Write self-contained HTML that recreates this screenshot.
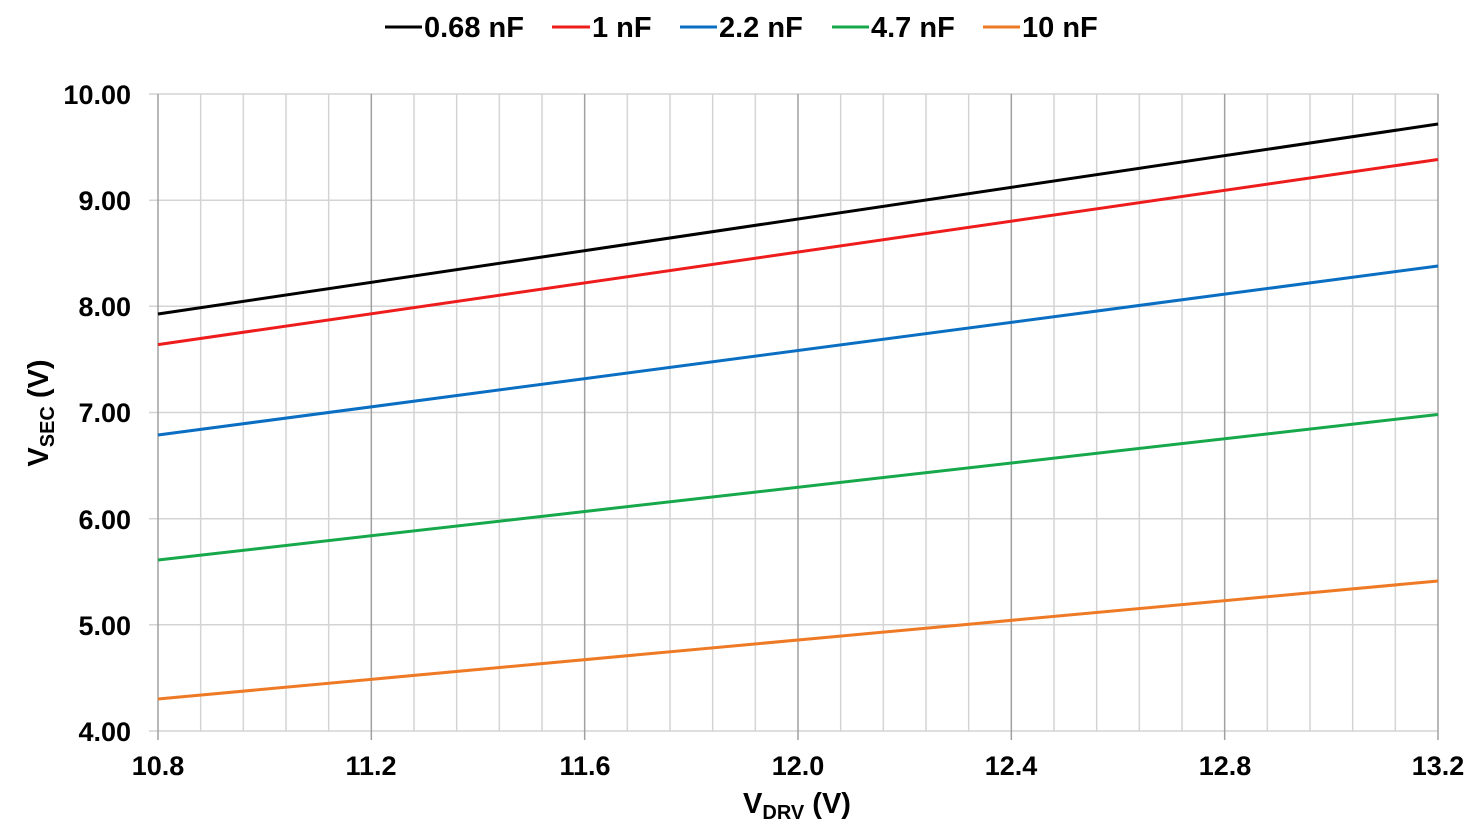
<!DOCTYPE html>
<html><head><meta charset="utf-8"><style>
html,body{margin:0;padding:0;background:#fff}
text{font-family:"Liberation Sans",Arial,sans-serif;font-weight:bold;fill:#000}
</style></head><body>
<svg width="1481" height="834" xmlns="http://www.w3.org/2000/svg">
<g stroke="#d4d4d4" stroke-width="1.5">
<line x1="149" y1="94" x2="1438" y2="94"/>
<line x1="149" y1="200.2" x2="1438" y2="200.2"/>
<line x1="149" y1="306.3" x2="1438" y2="306.3"/>
<line x1="149" y1="412.5" x2="1438" y2="412.5"/>
<line x1="149" y1="518.7" x2="1438" y2="518.7"/>
<line x1="149" y1="624.8" x2="1438" y2="624.8"/>
<line x1="149" y1="731" x2="1438" y2="731"/>
</g>
<g stroke="#d4d4d4" stroke-width="1.5" id="minor"></g>
<g stroke="#a0a0a0" stroke-width="1.5" id="major"></g>
<g fill="none" stroke-width="3">
<line x1="158" y1="314" x2="1438" y2="124" stroke="#000"/>
<line x1="158" y1="344.6" x2="1438" y2="159.5" stroke="#ee1c1c"/>
<line x1="158" y1="435" x2="1438" y2="266" stroke="#0a6fc2"/>
<line x1="158" y1="560" x2="1438" y2="414.5" stroke="#16a84a"/>
<line x1="158" y1="699" x2="1438" y2="581" stroke="#ee7a26"/>
</g>
<g font-size="27" text-anchor="end">
<text x="131" y="104">10.00</text>
<text x="131" y="210">9.00</text>
<text x="131" y="316">8.00</text>
<text x="131" y="422">7.00</text>
<text x="131" y="529">6.00</text>
<text x="131" y="635">5.00</text>
<text x="131" y="741">4.00</text>
</g>
<g font-size="27" text-anchor="middle">
<text x="158" y="775">10.8</text>
<text x="371" y="775">11.2</text>
<text x="585" y="775">11.6</text>
<text x="798" y="775">12.0</text>
<text x="1011" y="775">12.4</text>
<text x="1225" y="775">12.8</text>
<text x="1438" y="775">13.2</text>
</g>
<text x="797" y="813" font-size="29" text-anchor="middle">V<tspan font-size="20" dy="6">DRV</tspan><tspan dy="-6"> (V)</tspan></text>
<text transform="translate(48,413) rotate(-90)" font-size="29" text-anchor="middle">V<tspan font-size="20" dy="6">SEC</tspan><tspan dy="-6"> (V)</tspan></text>
<g stroke-width="3">
<line x1="385" y1="27" x2="422" y2="27" stroke="#000"/>
<line x1="552" y1="27" x2="590" y2="27" stroke="#ee1c1c"/>
<line x1="680" y1="27" x2="717" y2="27" stroke="#0a6fc2"/>
<line x1="832" y1="27" x2="869" y2="27" stroke="#16a84a"/>
<line x1="983" y1="27" x2="1020" y2="27" stroke="#ee7a26"/>
</g>
<g font-size="29">
<text x="424" y="37">0.68 nF</text>
<text x="592" y="37">1 nF</text>
<text x="719" y="37">2.2 nF</text>
<text x="871" y="37">4.7 nF</text>
<text x="1022" y="37">10 nF</text>
</g>
<script>
var mi=document.getElementById('minor'),ma=document.getElementById('major');
for(var i=0;i<=30;i++){var x=158+i*1280/30;var l=document.createElementNS('http://www.w3.org/2000/svg','line');
l.setAttribute('x1',x);l.setAttribute('x2',x);l.setAttribute('y1',94);l.setAttribute('y2',i%5==0?740:731);
(i%5==0?ma:mi).appendChild(l);}
</script>
</svg>
</body></html>
